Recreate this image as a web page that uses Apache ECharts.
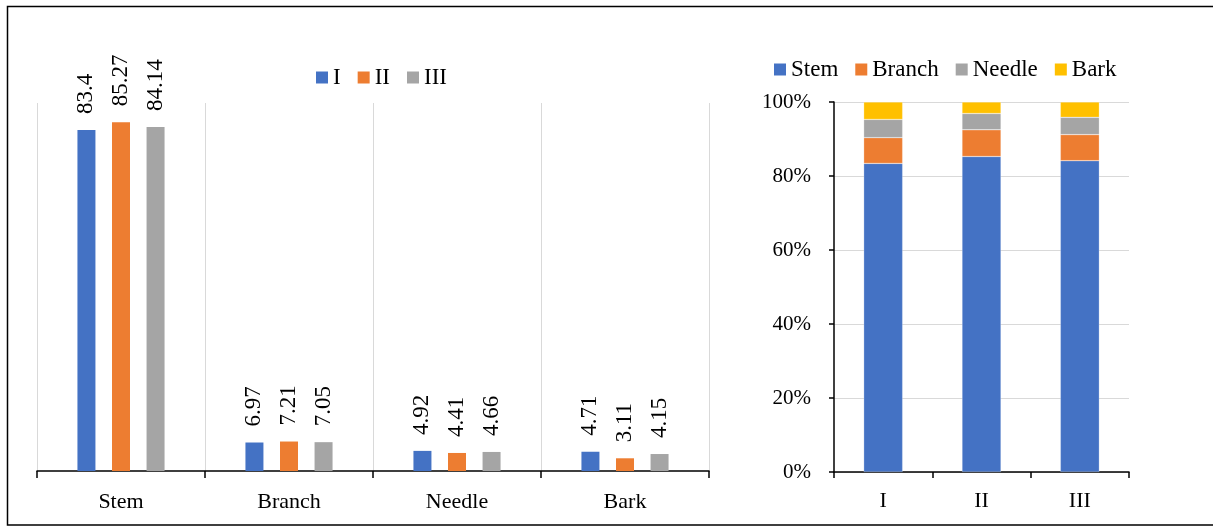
<!DOCTYPE html>
<html><head><meta charset="utf-8">
<script src="https://cdn.jsdelivr.net/npm/echarts@6/dist/echarts.min.js"></script>
<style>html,body{margin:0;padding:0;background:#fff}#c{width:1213px;height:529px}</style>
</head><body><div id="c"></div>
<script>
const parts = ['Stem', 'Branch', 'Needle', 'Bark'];
const groups = ['I', 'II', 'III'];
const valI = [83.4, 6.97, 4.92, 4.71];
const valII = [85.27, 7.21, 4.41, 3.11];
const valIII = [84.14, 7.05, 4.66, 4.15];
const pctTicks = [0, 20, 40, 60, 80, 100];

const groupColors = ['#4472C4', '#ED7D31', '#A5A5A5'];
const partColors = ['#4472C4', '#ED7D31', '#A5A5A5', '#FFC000'];
const FONT = 'Liberation Serif';
const groupVals = [valI, valII, valIII];

const chart = echarts.init(document.getElementById('c'));
const leftSeries = groups.map((g, i) => ({
  name: g, type: 'bar', xAxisIndex: 0, yAxisIndex: 0,
  data: groupVals[i], barWidth: 18, barGap: '92%',
  itemStyle: { color: groupColors[i] },
  label: { show: true, position: 'top', rotate: 90, align: 'left', verticalAlign: 'middle',
    distance: 16, fontFamily: FONT, fontSize: 23, color: '#000' }
}));
const rightSeries = parts.map((p, j) => ({
  name: p, type: 'bar', xAxisIndex: 1, yAxisIndex: 1, stack: 'all',
  data: groupVals.map(v => v[j]), barWidth: 39,
  itemStyle: { color: partColors[j], borderColor: 'rgba(255,255,255,0.5)', borderWidth: 0.5 }
}));

chart.setOption({
  animation: false,
  textStyle: { fontFamily: FONT },
  graphic: [{ type: 'rect', shape: { x: 7.5, y: 6.5, width: 1230, height: 518.5 },
    style: { fill: 'none', stroke: '#000', lineWidth: 1.5 }, silent: true }],
  legend: [
    { data: groups, left: 316, top: 66, padding: 0, itemWidth: 12, itemHeight: 12, itemGap: 17, itemStyle: { borderWidth: 0 },
      icon: 'rect', textStyle: { fontFamily: FONT, fontSize: 23, color: '#000' } },
    { data: parts, left: 774, top: 58, padding: 0, itemWidth: 12, itemHeight: 12, itemGap: 17, itemStyle: { borderWidth: 0 },
      icon: 'rect', textStyle: { fontFamily: FONT, fontSize: 23, color: '#000' } }
  ],
  grid: [
    { left: 37, right: 504, top: 103, bottom: 58 },
    { left: 834, right: 84, top: 102, bottom: 57 }
  ],
  xAxis: [
    { type: 'category', gridIndex: 0, data: parts,
      axisLine: { show: true, lineStyle: { color: '#000', width: 1.5 } },
      axisTick: { show: true, length: 7, lineStyle: { color: '#000', width: 1.5 } },
      splitLine: { show: true, lineStyle: { color: '#d9d9d9', width: 1 } },
      axisLabel: { margin: 20, fontFamily: FONT, fontSize: 22, color: '#000' } },
    { type: 'category', gridIndex: 1, data: groups,
      axisLine: { show: true, lineStyle: { color: '#000', width: 1.5 } },
      axisTick: { show: true, length: 6, lineStyle: { color: '#000', width: 1.5 } },
      axisLabel: { margin: 18, fontFamily: FONT, fontSize: 22, color: '#000' } }
  ],
  yAxis: [
    { type: 'value', gridIndex: 0, min: 0, max: 90, show: false, splitLine: { show: false } },
    { type: 'value', gridIndex: 1, min: pctTicks[0], max: pctTicks[pctTicks.length - 1], interval: 20,
      axisLine: { show: true, lineStyle: { color: '#000', width: 1.5 } },
      axisTick: { show: true, length: 5, lineStyle: { color: '#000', width: 1.5 } },
      splitLine: { show: true, lineStyle: { color: '#d9d9d9', width: 1 } },
      axisLabel: { margin: 23, fontFamily: FONT, fontSize: 21, color: '#000', formatter: '{value}%' } }
  ],
  series: leftSeries.concat(rightSeries)
});
</script></body></html>
